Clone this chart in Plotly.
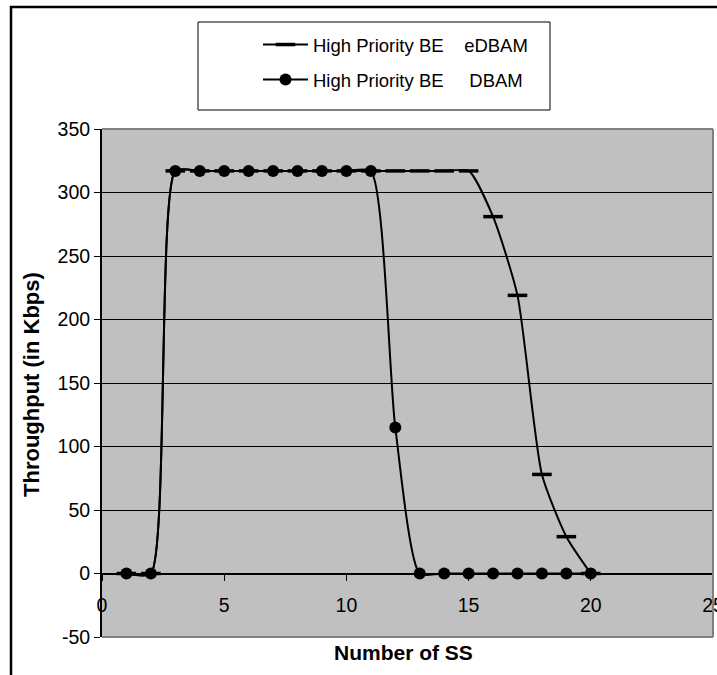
import plotly.graph_objects as go

num_ss = list(range(1, 21))
edbam = [0, 0, 317, 317, 317, 317, 317, 317, 317, 317, 317, 317, 317, 317, 317, 281, 219, 78, 29, 0]
dbam = [0, 0, 317, 317, 317, 317, 317, 317, 317, 317, 317, 115, 0, 0, 0, 0, 0, 0, 0, 0]
name_edbam = "High Priority BE\u00a0\u00a0\u00a0\u00a0eDBAM"
name_dbam = "High Priority BE\u00a0\u00a0\u00a0\u00a0\u00a0DBAM"
x_title = "Number of SS"
y_title = "Throughput (in Kbps)"
x_tick_vals = [0, 5, 10, 15, 20, 25]
x_tick_text = ["0", "5", "10", "15", "20", "25"]
y_tick_vals = [-50, 0, 50, 100, 150, 200, 250, 300, 350]
y_tick_text = ["-50", "0", "50", "100", "150", "200", "250", "300", "350"]

FONT = "Liberation Sans, Arial, sans-serif"

fig = go.Figure()
fig.add_trace(go.Scatter(
    x=num_ss, y=edbam, name=name_edbam, mode="lines+markers",
    line=dict(color="black", width=2, shape="spline", smoothing=0.6),
    marker=dict(symbol="line-ew", size=14, color="black", line=dict(color="black", width=3.5)),
    legendgroup="a",
))
fig.add_trace(go.Scatter(
    x=num_ss, y=dbam, name=name_dbam, mode="lines+markers",
    line=dict(color="black", width=2, shape="spline", smoothing=0.6),
    marker=dict(symbol="circle", size=12, color="black"),
    legendgroup="b",
))

L, R, T, B = 102, 4, 129, 38
W, H = 717, 675
pw, ph = W - L - R, H - T - B

def px(xp):
    return (xp - L) / pw

def py(yp):
    return (H - B - yp) / ph

fig.update_layout(
    width=W, height=H,
    margin=dict(l=L, r=R, t=T, b=B, pad=0),
    template="none",
    paper_bgcolor="white",
    plot_bgcolor="#C0C0C0",
    font=dict(family=FONT, size=19, color="black"),
    showlegend=True,
    legend=dict(
        x=px(258), y=py(26), xanchor="left", yanchor="top",
        bgcolor="rgba(0,0,0,0)", borderwidth=0,
        font=dict(family=FONT, size=18.5, color="black"),
        itemwidth=45,
        tracegroupgap=8,
    ),
    xaxis=dict(
        range=[0, 25], tickvals=x_tick_vals, ticktext=x_tick_text,
        anchor="free", position=0.125,
        showline=True, linecolor="black", linewidth=1,
        ticks="outside", ticklen=6, tickcolor="black", tickwidth=1,
        ticklabelstandoff=8, ticklabeloverflow="allow",
        showgrid=False, zeroline=False, automargin=False,
        tickfont=dict(family=FONT, size=19.5, color="black"),
    ),
    yaxis=dict(
        range=[-50, 350], tickvals=y_tick_vals, ticktext=y_tick_text,
        showline=True, linecolor="black", linewidth=2,
        ticks="outside", ticklen=6, tickcolor="black", tickwidth=1,
        showgrid=True, gridcolor="black", gridwidth=1,
        zeroline=True, zerolinecolor="black", zerolinewidth=1,
        automargin=False,
        tickfont=dict(family=FONT, size=19.5, color="black"),
    ),
    shapes=[
        dict(type="rect", xref="paper", yref="paper", x0=px(198), x1=px(550), y0=py(110), y1=py(22),
             fillcolor="white", line=dict(color="black", width=1), layer="below"),
        dict(type="line", xref="paper", yref="paper", x0=0, x1=1, y0=1, y1=1,
             line=dict(color="#808080", width=2)),
        dict(type="line", xref="paper", yref="paper", x0=1, x1=1, y0=0, y1=1,
             line=dict(color="#808080", width=2)),
        dict(type="line", xref="paper", yref="paper", x0=0, x1=1, y0=0, y1=0,
             line=dict(color="#808080", width=2)),
        dict(type="line", xref="paper", yref="paper", x0=px(11), x1=px(11), y0=py(6), y1=py(700),
             line=dict(color="black", width=2.5)),
        dict(type="line", xref="paper", yref="paper", x0=px(10), x1=px(740), y0=py(7), y1=py(7),
             line=dict(color="black", width=2.5)),
    ],
    annotations=[
        dict(text="<b>" + x_title + "</b>", xref="paper", yref="paper",
             x=px(403), y=py(652), xanchor="center", yanchor="middle",
             showarrow=False, font=dict(family=FONT, size=21, color="black")),
        dict(text="<b>" + y_title + "</b>", xref="paper", yref="paper",
             x=px(31), y=py(385), xanchor="center", yanchor="middle", textangle=-90,
             showarrow=False, font=dict(family=FONT, size=22, color="black")),
    ],
)

fig.write_html("out.html")
